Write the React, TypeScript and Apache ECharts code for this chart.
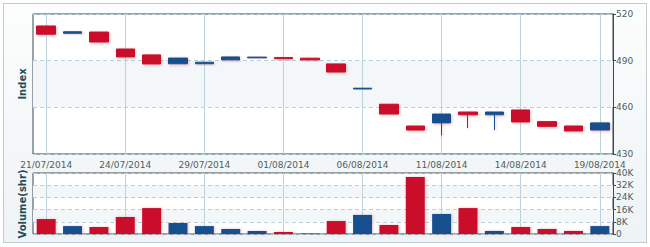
import React, { useEffect, useRef } from "react";
import * as echarts from "echarts";

const dates = [
  "21/07/2014", "22/07/2014", "23/07/2014", "24/07/2014", "25/07/2014",
  "28/07/2014", "29/07/2014", "30/07/2014", "31/07/2014", "01/08/2014",
  "04/08/2014", "05/08/2014", "06/08/2014", "07/08/2014", "08/08/2014",
  "11/08/2014", "12/08/2014", "13/08/2014", "14/08/2014", "15/08/2014",
  "18/08/2014", "19/08/2014",
];
const openValues = [512.3, 507.6, 508.4, 497.5, 493.7, 488.0, 488.0, 490.5, 491.8, 492.0, 491.6, 487.9, 471.8, 462.0, 448.0, 450.0, 457.0, 455.2, 458.3, 450.8, 448.0, 445.4];
const closeValues = [507.0, 508.6, 502.0, 492.4, 487.9, 491.7, 489.0, 492.4, 492.3, 491.2, 490.5, 482.7, 472.3, 455.7, 445.4, 455.7, 455.2, 457.0, 450.6, 447.8, 444.8, 450.0];
const lowValues = [507.0, 507.6, 502.0, 492.4, 487.9, 488.0, 488.0, 490.5, 491.8, 491.2, 490.5, 482.7, 471.8, 455.7, 445.4, 442.0, 446.7, 445.4, 450.6, 447.8, 444.8, 445.4];
const highValues = [512.3, 508.6, 508.4, 497.5, 493.7, 491.7, 489.0, 492.4, 492.3, 492.0, 491.6, 487.9, 472.3, 462.0, 448.0, 455.7, 457.0, 457.0, 458.3, 450.8, 448.0, 450.0];
const volumeValues = [9800, 5200, 4600, 11100, 17000, 7200, 5200, 3300, 2000, 1300, 300, 8500, 12500, 5900, 37400, 13100, 17000, 2000, 4600, 3300, 2000, 5200];
const priceTicks = { min: 430, max: 520, interval: 30 };
const volumeTicks = { min: 0, max: 40000, interval: 8000 };

const UP = "#17508d";
const DOWN = "#c90b2c";

export default function App() {
  const ref = useRef<HTMLDivElement>(null);
  useEffect(() => {
    document.body.style.margin = "0";
    if (!ref.current) return;
    const chart = echarts.init(ref.current, null, { renderer: "svg" });
    const candleData = dates.map((_, i) => [openValues[i], closeValues[i], lowValues[i], highValues[i]]);
    const volData = volumeValues.map((v, i) => ({
      value: v,
      itemStyle: { color: closeValues[i] >= openValues[i] ? UP : DOWN },
    }));
    const labelStyle = { color: "#4f5d63", fontSize: 9, fontFamily: "DejaVu Sans" };
    const gridDates = dates.filter((_, i) => i % 3 === 0);
    const vLines = {
      silent: true,
      symbol: ["none", "none"],
      z: 1,
      label: { show: false },
      lineStyle: { color: "#bcd3dc", width: 1, type: "solid" as const },
      emphasis: { disabled: true },
      data: gridDates.map((d) => ({ xAxis: d })),
    };
    chart.setOption({
      animation: false,
      backgroundColor: "transparent",
      grid: [
        { left: 33, right: 37, top: 14, height: 140, show: true, backgroundColor: "#ffffff", borderColor: "#3a4950", borderWidth: 1 },
        { left: 33, right: 37, top: 173, height: 61, show: true, backgroundColor: "#ffffff", borderColor: "#3a4950", borderWidth: 1 },
      ],
      xAxis: [
        {
          type: "category", data: dates, gridIndex: 0, boundaryGap: true,
          axisLine: { show: false }, axisTick: { show: false },
          axisLabel: { ...labelStyle, interval: 2, margin: 6 },
          splitLine: { show: false },
        },
        {
          type: "category", data: dates, gridIndex: 1, boundaryGap: true,
          axisLine: { show: false }, axisTick: { show: false },
          axisLabel: { show: false },
          splitLine: { show: false },
        },
      ],
      yAxis: [
        {
          type: "value", gridIndex: 0, position: "right", scale: true,
          min: priceTicks.min, max: priceTicks.max, interval: priceTicks.interval,
          axisLine: { show: true, lineStyle: { color: "#3a4950" } },
          axisTick: { show: true, length: 3, lineStyle: { color: "#3a4950" } },
          axisLabel: { ...labelStyle, margin: 3 },
          splitLine: { show: true, lineStyle: { color: "#b9d0da", type: [4, 3] } },
          splitArea: { show: true, areaStyle: { color: ["rgba(255,255,255,0)", "#f3f7f9"] } },
        },
        {
          type: "value", gridIndex: 1, position: "right",
          min: volumeTicks.min, max: volumeTicks.max, interval: volumeTicks.interval,
          axisLine: { show: true, lineStyle: { color: "#3a4950" } },
          axisTick: { show: true, length: 3, lineStyle: { color: "#3a4950" } },
          axisLabel: { ...labelStyle, margin: 3, formatter: (v: number) => (v === 0 ? "0" : v / 1000 + "K") },
          splitLine: { show: true, lineStyle: { color: "#b9d0da", type: [4, 3] } },
          splitArea: { show: true, areaStyle: { color: ["rgba(255,255,255,0)", "#f3f7f9"] } },
        },
      ],
      series: [
        {
          type: "candlestick", xAxisIndex: 0, yAxisIndex: 0, data: candleData,
          barWidth: 19, z: 3,
          itemStyle: {
            color: UP, color0: DOWN, borderColor: UP, borderColor0: DOWN, borderWidth: 1,
            shadowBlur: 3, shadowColor: "rgba(180,60,80,0.35)", shadowOffsetX: 1, shadowOffsetY: 1,
          },
          markLine: vLines,
        },
        {
          type: "bar", xAxisIndex: 1, yAxisIndex: 1, data: volData, barWidth: 19, z: 3,
          itemStyle: { shadowBlur: 3, shadowColor: "rgba(180,60,80,0.3)", shadowOffsetX: 1, shadowOffsetY: 0 },
          markLine: vLines,
        },
      ],
      graphic: [
        {
          type: "text", x: 22, y: 84, rotation: Math.PI / 2,
          style: { text: "Index", fill: "#1d4d5b", font: "bold 10px DejaVu Sans", align: "center", verticalAlign: "middle" },
        },
        {
          type: "text", x: 22, y: 204, rotation: Math.PI / 2,
          style: { text: "Volume(shr)", fill: "#1d4d5b", font: "bold 10px DejaVu Sans", align: "center", verticalAlign: "middle" },
        },
      ],
    });
    return () => chart.dispose();
  }, []);
  return (
    <div style={{ position: "relative", width: 650, height: 247, background: "#ffffff" }}>
      <div
        style={{
          position: "absolute", left: 3, top: 3, width: 642, height: 238,
          border: "1px solid #c2cbcf",
          background: "linear-gradient(180deg, #fcfdfd 0%, #eef3f5 100%)",
        }}
      />
      <div ref={ref} style={{ position: "absolute", left: 0, top: 0, width: 650, height: 247 }} />
    </div>
  );
}
